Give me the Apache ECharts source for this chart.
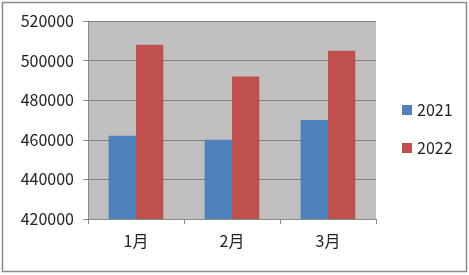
<!DOCTYPE html>
<html><head><meta charset="utf-8">
<script src="https://cdn.jsdelivr.net/npm/echarts@6/dist/echarts.min.js"></script>
<style>html,body{margin:0;padding:0;background:#fff}#c{width:469px;height:275px}</style>
</head><body><div id="c"></div>
<script>
const categories = ['1月', '2月', '3月'];
const seriesNames = ['2021', '2022'];
const values2021 = [462000, 460000, 470000];
const values2022 = [508000, 492000, 505000];
const yMin = 420000, yMax = 520000, yStep = 20000;

const chart = echarts.init(document.getElementById('c'));
const font = '"Noto Sans CJK SC", "Noto Sans", sans-serif';
chart.setOption({
  animation: false,
  textStyle: { fontFamily: font },
  graphic: [{
    type: 'rect', shape: { x: 2.5, y: 2.5, width: 464, height: 269 },
    style: { fill: 'none', stroke: '#8a8a8a', lineWidth: 1.5 }, z: 100
  }],
  grid: { left: 88, right: 93, top: 21, bottom: 56, backgroundColor: '#c0c0c0', show: true, borderWidth: 0 },
  legend: {
    orient: 'vertical', left: 397, top: 97, itemGap: 22, itemWidth: 10, itemHeight: 10,
    textStyle: { fontSize: 16, color: '#222', fontFamily: font },
    data: seriesNames.map(n => ({ name: n, icon: 'rect' }))
  },
  xAxis: {
    type: 'category', data: categories,
    axisLine: { show: true, lineStyle: { color: '#8a8a8a' } },
    axisTick: { show: true, length: 5, lineStyle: { color: '#8a8a8a' } },
    axisLabel: { fontSize: 16, color: '#222', margin: 14 }
  },
  yAxis: {
    type: 'value', min: yMin, max: yMax, interval: yStep,
    axisLine: { show: true, lineStyle: { color: '#8a8a8a' } },
    axisTick: { show: true, length: 5, lineStyle: { color: '#8a8a8a' } },
    axisLabel: { fontSize: 16, color: '#222', margin: 14, formatter: v => String(v) },
    splitLine: { lineStyle: { color: '#808080' } }
  },
  series: [
    { name: seriesNames[0], type: 'bar', data: values2021, itemStyle: { color: '#4f81bd' }, barGap: '0%', barCategoryGap: '43%' },
    { name: seriesNames[1], type: 'bar', data: values2022, itemStyle: { color: '#c0504d' }, barGap: '0%', barCategoryGap: '43%' }
  ]
});
</script></body></html>
